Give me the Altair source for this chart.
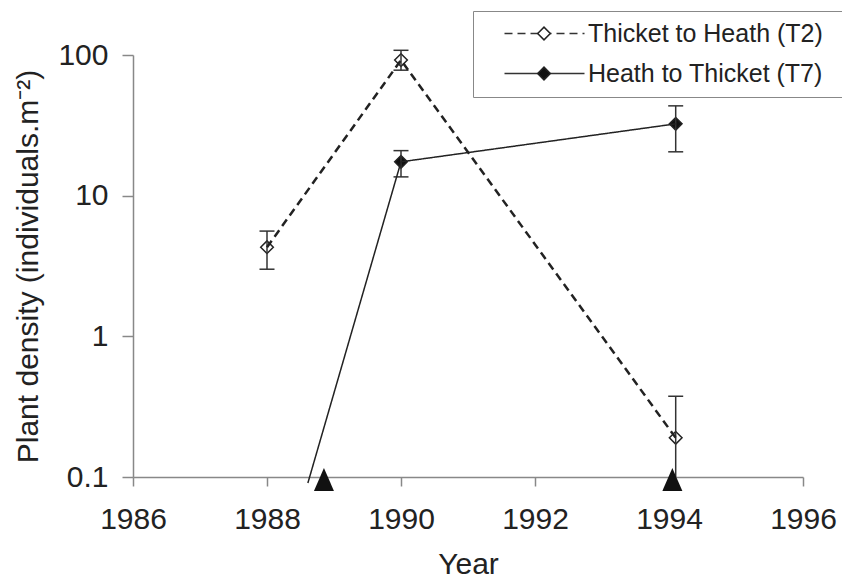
import altair as alt
import pandas as pd

SERIES = ["Thicket to Heath (T2)", "Heath to Thicket (T7)"]

# Thicket to Heath (T2)
t2_years = [1988, 1990, 1994.1]
t2_density = [4.3, 92.0, 0.19]
t2_low = [3.0, 78.0, 0.1]
t2_high = [5.6, 108.0, 0.375]

# Heath to Thicket (T7): the line runs down off the log axis before 1990
t7_line_years = [1988.61, 1990, 1994.1]
t7_line_density = [0.0906, 17.4, 32.4]
t7_years = [1990, 1994.1]
t7_density = [17.4, 32.4]
t7_low = [13.6, 20.5]
t7_high = [20.9, 43.5]

# zero-density markers (triangles on the axis)
zero_years = [1988.85, 1994.05]
zero_density = [0.1, 0.1]

x_ticks = [1986, 1988, 1990, 1992, 1994, 1996]
y_ticks = [0.1, 1, 10, 100]

FONT = "Liberation Sans"

lines = pd.DataFrame({
    "year": t2_years + t7_line_years,
    "density": t2_density + t7_line_density,
    "series": [SERIES[0]] * len(t2_years) + [SERIES[1]] * len(t7_line_years),
})
points = pd.DataFrame({
    "year": t2_years + t7_years,
    "density": t2_density + t7_density,
    "grp": [SERIES[0]] * len(t2_years) + [SERIES[1]] * len(t7_years),
})
errs = pd.DataFrame({
    "year": t2_years + t7_years,
    "lo": t2_low + t7_low,
    "hi": t2_high + t7_high,
})
caps = pd.concat([
    pd.DataFrame({"year": errs["year"], "v": errs["hi"]}),
    pd.DataFrame({"year": errs["year"], "v": errs["lo"]})[errs["lo"] > 0.1],
])
zeros = pd.DataFrame({"year": zero_years, "density": zero_density})

xscale = alt.Scale(domain=[1986, 1996], nice=False, zero=False)
yscale = alt.Scale(type="log", domain=[0.1, 100], nice=False)

x_axis = alt.Axis(values=x_ticks, format="d", title="Year", tickSize=9,
                  labelPadding=18, titlePadding=15, labelFlush=False)
y_axis = alt.Axis(values=y_ticks, format="~g",
                  title="Plant density (individuals.m\u207b\u00b2)",
                  tickSize=11, labelPadding=14, titlePadding=14)


def X(field):
    return alt.X(field, scale=xscale, axis=x_axis)


def Y(field):
    return alt.Y(field, scale=yscale, axis=y_axis)


LX, LY = 340, -44
# diamond legend symbol; the trailing move-to only widens the legend frame
# so that its right side runs off the page as in the original figure
DIAMOND_WIDE = "M-1,0L0,-1L1,0L0,1Z M90,0"

pts = alt.Chart(points).mark_point(
    shape="diamond", size=160, stroke="#222", strokeWidth=1.5, opacity=1
).encode(
    x=X("year:Q"),
    y=Y("density:Q"),
    fill=alt.Fill("grp:N", sort=SERIES, scale=alt.Scale(range=["white", "#111"]),
                  legend=alt.Legend(title=None, orient="none", legendX=LX, legendY=LY,
                                    symbolType=DIAMOND_WIDE, symbolSize=160,
                                    symbolStrokeColor="#222", symbolStrokeWidth=1.5,
                                    symbolOffset=48.5, labelExpr="''",
                                    labelFont=FONT, labelFontSize=25, rowPadding=14,
                                    padding=10, strokeColor="#888", zindex=1)),
)

rules = alt.Chart(errs).mark_rule(color="#333", strokeWidth=1.5).encode(
    x=X("year:Q"),
    y=Y("lo:Q"),
    y2="hi:Q",
)

capm = alt.Chart(caps).mark_point(
    shape="stroke", size=225, stroke="#333", strokeWidth=1.5, opacity=1
).encode(
    x=X("year:Q"),
    y=Y("v:Q"),
)

ln = alt.Chart(lines).mark_line(color="#222", clip=False).encode(
    x=X("year:Q"),
    y=Y("density:Q"),
    strokeDash=alt.StrokeDash(
        "series:N", scale=alt.Scale(domain=SERIES, range=[[8, 5], [1, 0]]),
        legend=alt.Legend(title=None, orient="none", legendX=LX, legendY=LY,
                          symbolType="M-4,0H4", symbolSize=400,
                          symbolStrokeColor="#333", symbolStrokeWidth=1.5,
                          symbolOffset=49, labelOffset=31,
                          labelFont=FONT, labelFontSize=25, labelColor="#222",
                          labelLimit=0, rowPadding=14, padding=10)),
    strokeWidth=alt.condition(f"datum.series == '{SERIES[0]}'", alt.value(2.5), alt.value(1.5)),
)

tri = alt.Chart(zeros).mark_point(
    shape="M-1,1.4L0,-0.9L1,1.4Z", size=400, filled=True, color="#111", opacity=1
).encode(
    x=X("year:Q"),
    y=Y("density:Q"),
)

chart = alt.layer(pts, rules, capm, ln, tri).properties(
    width=670, height=422,
    padding={"left": 125, "top": 47, "right": 39, "bottom": 103},
    autosize=alt.AutoSizeParams(type="none"),
).configure_view(stroke=None).configure_axis(
    grid=False, labelFont=FONT, labelFontSize=30, labelColor="#222",
    titleFont=FONT, titleFontSize=30, titleFontWeight="normal", titleColor="#222",
    domainColor="#888", tickColor="#888", domainWidth=1.5, tickWidth=1.5,
)

chart.save("out.html", embed_options={"renderer": "svg", "actions": False})
